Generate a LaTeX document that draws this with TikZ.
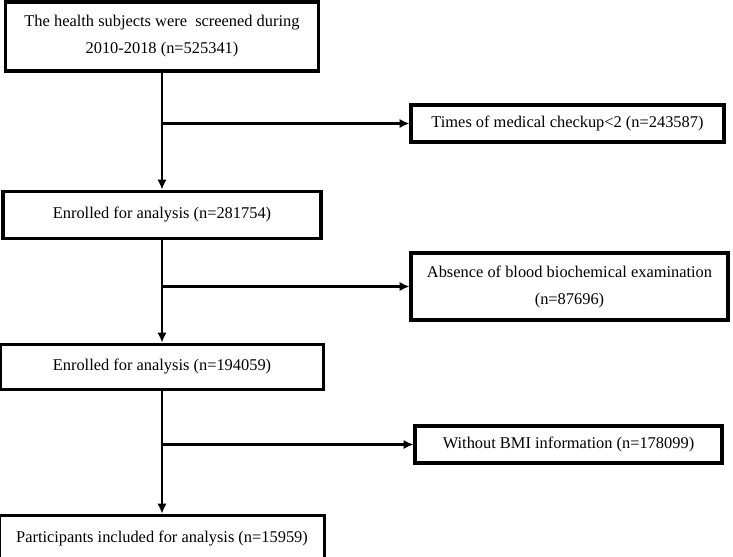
\documentclass[tikz,border=0pt]{standalone}
\usepackage{fontspec}
\setmainfont{Liberation Serif}
\usetikzlibrary{positioning, arrows.meta}

\begin{document}
\begin{tikzpicture}[
           x = 0.03cm, y = -0.03cm,
          >= {Latex[length=8.5pt,width=8pt]},
  every node/.style = {font=\fontsize{14}{23}\selectfont},
        box/.style = {rectangle, draw, line width=2.6pt, inner sep=2pt, align=center},
       link/.style = {line width=2pt}
                    ]
\useasboundingbox (0,0) rectangle (733,556);
% main stream
\node (screen) [box, minimum width=9.39cm, minimum height=2.07cm] at (162,36.5) {The health subjects were~ screened during\\2010-2018 (n=525341)};
\node (enrol1) [box, minimum width=9.54cm, minimum height=1.41cm, below=3.51cm of screen] {Enrolled for analysis (n=281754)};
\node (enrol2) [box, minimum width=9.69cm, minimum height=1.35cm, below=3.09cm of enrol1] {Enrolled for analysis (n=194059)};
\node (final)  [box, minimum width=9.75cm, minimum height=1.38cm, below=3.69cm of enrol2] {Participants included for analysis (n=15959)};
% excluded
\node (checkup) [box, minimum width=9.39cm, minimum height=1.11cm] at (567.5,123.5) {Times of medical checkup<2 (n=243587)};
\node (blood)   [box, minimum width=9.51cm, minimum height=2.01cm] at (569.5,286.5) {Absence of blood biochemical examination\\(n=87696)};
\node (bmi)     [box, minimum width=9.21cm, minimum height=1.11cm] at (568.5,444.5) {Without BMI information (n=178099)};
\coordinate (j1) at (screen.south |- checkup.west);
\coordinate (j2) at (screen.south |- blood.west);
\coordinate (j3) at (screen.south |- bmi.west);
\draw[->, link] (screen) -- (enrol1);
\draw[->, link] (enrol1) -- (enrol2);
\draw[->, link] (enrol2) -- (final);
\draw[->, link] (j1) -- (checkup);
\draw[->, link] (j2) -- (blood);
\draw[->, link] (j3) -- (bmi);
\end{tikzpicture}
\end{document}
